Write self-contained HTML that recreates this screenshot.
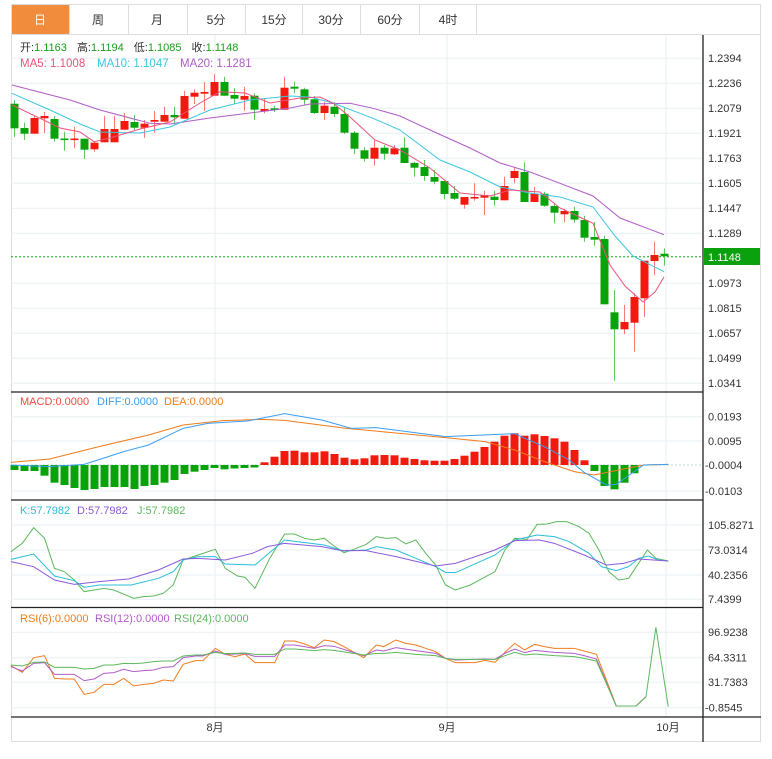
<!DOCTYPE html>
<html><head><meta charset="utf-8"><style>
body{margin:0;background:#fff;width:772px;height:754px;overflow:hidden;font-family:"Liberation Sans","Noto Sans CJK SC",sans-serif}
</style></head><body>
<svg width="772" height="754" viewBox="0 0 772 754" xmlns="http://www.w3.org/2000/svg" font-family="Liberation Sans, Noto Sans CJK SC, sans-serif">
<rect x="11.5" y="4.5" width="749" height="737" fill="none" stroke="#ddd"/>
<rect x="12" y="5" width="57" height="29" fill="#f08c3c"/>
<g stroke="#ddd"><line x1="69.5" y1="5" x2="69.5" y2="34"/><line x1="128.5" y1="5" x2="128.5" y2="34"/><line x1="187.5" y1="5" x2="187.5" y2="34"/><line x1="245.5" y1="5" x2="245.5" y2="34"/><line x1="302.5" y1="5" x2="302.5" y2="34"/><line x1="360.5" y1="5" x2="360.5" y2="34"/><line x1="419.5" y1="5" x2="419.5" y2="34"/><line x1="476.5" y1="5" x2="476.5" y2="34"/><line x1="11" y1="34.5" x2="761" y2="34.5"/></g>
<g font-size="12" text-anchor="middle" fill="#333"><text x="40" y="24" fill="#fff">日</text><text x="98" y="24">周</text><text x="157" y="24">月</text><text x="216" y="24">5分</text><text x="274" y="24">15分</text><text x="331" y="24">30分</text><text x="390" y="24">60分</text><text x="448" y="24">4时</text></g>
<g stroke="#e8eff3" stroke-width="1">
<line x1="11" y1="58.3" x2="703" y2="58.3"/><line x1="11" y1="83.3" x2="703" y2="83.3"/><line x1="11" y1="108.3" x2="703" y2="108.3"/><line x1="11" y1="133.3" x2="703" y2="133.3"/><line x1="11" y1="158.3" x2="703" y2="158.3"/><line x1="11" y1="183.3" x2="703" y2="183.3"/><line x1="11" y1="208.3" x2="703" y2="208.3"/><line x1="11" y1="233.3" x2="703" y2="233.3"/><line x1="11" y1="283.3" x2="703" y2="283.3"/><line x1="11" y1="308.3" x2="703" y2="308.3"/><line x1="11" y1="333.3" x2="703" y2="333.3"/><line x1="11" y1="358.3" x2="703" y2="358.3"/><line x1="11" y1="383.3" x2="703" y2="383.3"/>
<line x1="11" y1="416.7" x2="703" y2="416.7"/><line x1="11" y1="441" x2="703" y2="441"/><line x1="11" y1="491" x2="703" y2="491"/>
<line x1="11" y1="525" x2="703" y2="525"/><line x1="11" y1="550" x2="703" y2="550"/><line x1="11" y1="575" x2="703" y2="575"/><line x1="11" y1="599.3" x2="703" y2="599.3"/>
<line x1="11" y1="632.3" x2="703" y2="632.3"/><line x1="11" y1="657.7" x2="703" y2="657.7"/><line x1="11" y1="682.3" x2="703" y2="682.3"/><line x1="11" y1="707.7" x2="703" y2="707.7"/>
<line x1="215" y1="35" x2="215" y2="717"/><line x1="447" y1="35" x2="447" y2="717"/><line x1="666" y1="35" x2="666" y2="717"/>
</g>
<g stroke="#222" stroke-width="1.3"><line x1="11" y1="392" x2="703" y2="392"/><line x1="11" y1="500" x2="703" y2="500"/><line x1="11" y1="607.5" x2="703" y2="607.5"/><line x1="11" y1="717" x2="761" y2="717"/><line x1="703" y1="35" x2="703" y2="742"/></g>
<g font-size="11" fill="#333">
<text x="708" y="62">1.2394</text><text x="708" y="87">1.2236</text><text x="708" y="112">1.2079</text><text x="708" y="137">1.1921</text><text x="708" y="162">1.1763</text><text x="708" y="187">1.1605</text><text x="708" y="212">1.1447</text><text x="708" y="237">1.1289</text><text x="708" y="287">1.0973</text><text x="708" y="312">1.0815</text><text x="708" y="337">1.0657</text><text x="708" y="362">1.0499</text><text x="708" y="387">1.0341</text>
<text x="708" y="420.5">0.0193</text><text x="708" y="445">0.0095</text><text x="705" y="469">-0.0004</text><text x="705" y="495">-0.0103</text>
<text x="708" y="529">105.8271</text><text x="708" y="554">73.0314</text><text x="708" y="579">40.2356</text><text x="708" y="603">7.4399</text>
<text x="708" y="636">96.9238</text><text x="708" y="661.5">64.3311</text><text x="708" y="686">31.7383</text><text x="705" y="711.5">-0.8545</text>
<text x="215" y="731" text-anchor="middle">8月</text><text x="447" y="731" text-anchor="middle">9月</text><text x="668" y="731" text-anchor="middle">10月</text>
</g>
<line x1="11" y1="256.7" x2="703" y2="256.7" stroke="#1aa01a" stroke-dasharray="2,2"/>
<rect x="704" y="248" width="56" height="17" fill="#0aa00e"/>
<text x="708" y="261" font-size="11" fill="#fff">1.1148</text>
<text x="20" y="51" font-size="11" fill="#333">开:<tspan fill="#1aa01a">1.1163</tspan><tspan dx="10">高:</tspan><tspan fill="#1aa01a">1.1194</tspan><tspan dx="10">低:</tspan><tspan fill="#1aa01a">1.1085</tspan><tspan dx="10">收:</tspan><tspan fill="#1aa01a">1.1148</tspan></text>
<text x="20" y="67" font-size="11.5" fill="#e9537a">MA5: 1.1008<tspan x="97" fill="#3bc7e0">MA10: 1.1047</tspan><tspan x="180" fill="#b05cc8">MA20: 1.1281</tspan></text>
<text x="20" y="405" font-size="11" fill="#f04b3c">MACD:0.0000<tspan x="97" fill="#3c9ef0">DIFF:0.0000</tspan><tspan x="164" fill="#f07c1c">DEA:0.0000</tspan></text>
<text x="20" y="514" font-size="11" fill="#2bbcd8">K:57.7982<tspan x="77" fill="#8a5ad8">D:57.7982</tspan><tspan x="137" fill="#5cb85c">J:57.7982</tspan></text>
<text x="20" y="622" font-size="11" fill="#f07c1c">RSI(6):0.0000<tspan x="95" fill="#b05cc8">RSI(12):0.0000</tspan><tspan x="174" fill="#5cb85c">RSI(24):0.0000</tspan></text>

<g stroke-width="1">
<g fill="#08a20a" stroke="#5cc85c">
<line x1="14.5" y1="100" x2="14.5" y2="137"/><rect x="10.5" y="103.7" width="8" height="24.6" stroke="none"/>
<line x1="24.5" y1="122.7" x2="24.5" y2="140"/><rect x="20.5" y="128" width="8" height="5.7" stroke="none"/>
<line x1="54.5" y1="116" x2="54.5" y2="141.7"/><rect x="50.5" y="119" width="8" height="19.7" stroke="none"/>
<line x1="64.5" y1="131.7" x2="64.5" y2="150.7"/><rect x="60.5" y="138.5" width="8" height="1.6" stroke="none"/>
<line x1="84.5" y1="138.7" x2="84.5" y2="158.7"/><rect x="80.5" y="138.7" width="8" height="11" stroke="none"/>
<line x1="134.5" y1="115" x2="134.5" y2="130"/><rect x="130.5" y="122" width="8" height="5.7" stroke="none"/>
<line x1="174.5" y1="106.7" x2="174.5" y2="124.3"/><rect x="170.5" y="115" width="8" height="2.3" stroke="none"/>
<line x1="224.5" y1="76.7" x2="224.5" y2="95.7"/><rect x="220.5" y="82" width="8" height="13.7" stroke="none"/>
<line x1="234.5" y1="88.3" x2="234.5" y2="103.7"/><rect x="230.5" y="95" width="8" height="3.7" stroke="none"/>
<line x1="254.5" y1="93.3" x2="254.5" y2="120"/><rect x="250.5" y="95.7" width="8" height="14" stroke="none"/>
<line x1="274.5" y1="106" x2="274.5" y2="112"/><rect x="270.5" y="108.3" width="8" height="1.7" stroke="none"/>
<line x1="294.5" y1="81.7" x2="294.5" y2="93.3"/><rect x="290.5" y="86.7" width="8" height="2" stroke="none"/>
<line x1="304.5" y1="87.7" x2="304.5" y2="105"/><rect x="300.5" y="89.3" width="8" height="10.4" stroke="none"/>
<line x1="314.5" y1="96" x2="314.5" y2="114"/><rect x="310.5" y="99.3" width="8" height="13.7" stroke="none"/>
<line x1="334.5" y1="102" x2="334.5" y2="117"/><rect x="330.5" y="106.7" width="8" height="7.3" stroke="none"/>
<line x1="344.5" y1="108" x2="344.5" y2="134"/><rect x="340.5" y="114" width="8" height="18.7" stroke="none"/>
<line x1="354.5" y1="131" x2="354.5" y2="154"/><rect x="350.5" y="132.7" width="8" height="16" stroke="none"/>
<line x1="364.5" y1="147.3" x2="364.5" y2="161.7"/><rect x="360.5" y="150.3" width="8" height="8.4" stroke="none"/>
<line x1="384.5" y1="145" x2="384.5" y2="159.7"/><rect x="380.5" y="147.7" width="8" height="6" stroke="none"/>
<line x1="404.5" y1="137.3" x2="404.5" y2="163"/><rect x="400.5" y="147.7" width="8" height="15.3" stroke="none"/>
<line x1="414.5" y1="161.7" x2="414.5" y2="176.7"/><rect x="410.5" y="163" width="8" height="4.7" stroke="none"/>
<line x1="424.5" y1="160" x2="424.5" y2="180.7"/><rect x="420.5" y="167" width="8" height="9" stroke="none"/>
<line x1="434.5" y1="170" x2="434.5" y2="184.3"/><rect x="430.5" y="177" width="8" height="4.7" stroke="none"/>
<line x1="444.5" y1="181" x2="444.5" y2="199.3"/><rect x="440.5" y="181" width="8" height="13" stroke="none"/>
<line x1="454.5" y1="186" x2="454.5" y2="200"/><rect x="450.5" y="193" width="8" height="5.7" stroke="none"/>
<line x1="494.5" y1="190.7" x2="494.5" y2="205.7"/><rect x="490.5" y="196.7" width="8" height="3.3" stroke="none"/>
<line x1="524.5" y1="162.3" x2="524.5" y2="202"/><rect x="520.5" y="172" width="8" height="30" stroke="none"/>
<line x1="544.5" y1="191.7" x2="544.5" y2="206.7"/><rect x="540.5" y="193.7" width="8" height="12" stroke="none"/>
<line x1="554.5" y1="203.3" x2="554.5" y2="223.3"/><rect x="550.5" y="206" width="8" height="6.7" stroke="none"/>
<line x1="574.5" y1="206.7" x2="574.5" y2="222.7"/><rect x="570.5" y="211" width="8" height="8.6" stroke="none"/>
<line x1="584.5" y1="215.7" x2="584.5" y2="241.7"/><rect x="580.5" y="220" width="8" height="17.7" stroke="none"/>
<line x1="594.5" y1="221.7" x2="594.5" y2="245.7"/><rect x="590.5" y="237" width="8" height="2.7" stroke="none"/>
<line x1="604.5" y1="235.7" x2="604.5" y2="304.3"/><rect x="600.5" y="239" width="8" height="65.3" stroke="none"/>
<line x1="614.5" y1="290" x2="614.5" y2="380.7"/><rect x="610.5" y="312.3" width="8" height="17" stroke="none"/>
<line x1="664.5" y1="248.3" x2="664.5" y2="265.7"/><rect x="660.5" y="253.7" width="8" height="2.6" stroke="none"/>
</g>
<g fill="#f21a0e" stroke="#f47a72">
<line x1="34.5" y1="116" x2="34.5" y2="133.7"/><rect x="30.5" y="118" width="8" height="15.7" stroke="none"/>
<line x1="44.5" y1="112" x2="44.5" y2="133"/><rect x="40.5" y="116" width="8" height="2.3" stroke="none"/>
<line x1="74.5" y1="126.7" x2="74.5" y2="148.3"/><rect x="70.5" y="138.5" width="8" height="1.6" stroke="none"/>
<line x1="94.5" y1="141.7" x2="94.5" y2="151.7"/><rect x="90.5" y="142.7" width="8" height="6.6" stroke="none"/>
<line x1="104.5" y1="115.7" x2="104.5" y2="142.3"/><rect x="100.5" y="129" width="8" height="13.3" stroke="none"/>
<line x1="114.5" y1="115.7" x2="114.5" y2="142.3"/><rect x="110.5" y="129" width="8" height="13.3" stroke="none"/>
<line x1="124.5" y1="113" x2="124.5" y2="129.7"/><rect x="120.5" y="121" width="8" height="8.7" stroke="none"/>
<line x1="144.5" y1="120" x2="144.5" y2="137.7"/><rect x="140.5" y="123.7" width="8" height="4" stroke="none"/>
<line x1="154.5" y1="111" x2="154.5" y2="132.7"/><rect x="150.5" y="120" width="8" height="1.7" stroke="none"/>
<line x1="164.5" y1="106.7" x2="164.5" y2="121.7"/><rect x="160.5" y="115" width="8" height="6.7" stroke="none"/>
<line x1="184.5" y1="90.7" x2="184.5" y2="118.7"/><rect x="180.5" y="96" width="8" height="22.7" stroke="none"/>
<line x1="194.5" y1="89.3" x2="194.5" y2="104"/><rect x="190.5" y="92.7" width="8" height="4" stroke="none"/>
<line x1="204.5" y1="82" x2="204.5" y2="110.7"/><rect x="200.5" y="92" width="8" height="1.7" stroke="none"/>
<line x1="214.5" y1="74.3" x2="214.5" y2="95.7"/><rect x="210.5" y="82" width="8" height="13.7" stroke="none"/>
<line x1="244.5" y1="86.7" x2="244.5" y2="110.7"/><rect x="240.5" y="96" width="8" height="3.7" stroke="none"/>
<line x1="264.5" y1="98.3" x2="264.5" y2="113.3"/><rect x="260.5" y="109" width="8" height="2.3" stroke="none"/>
<line x1="284.5" y1="76.7" x2="284.5" y2="109.7"/><rect x="280.5" y="87.7" width="8" height="22" stroke="none"/>
<line x1="324.5" y1="101.7" x2="324.5" y2="120"/><rect x="320.5" y="105.7" width="8" height="7.3" stroke="none"/>
<line x1="374.5" y1="140" x2="374.5" y2="165.7"/><rect x="370.5" y="147.7" width="8" height="11" stroke="none"/>
<line x1="394.5" y1="145" x2="394.5" y2="155"/><rect x="390.5" y="148.3" width="8" height="6" stroke="none"/>
<line x1="464.5" y1="197" x2="464.5" y2="208.7"/><rect x="460.5" y="197" width="8" height="7.7" stroke="none"/>
<line x1="474.5" y1="183.3" x2="474.5" y2="200.7"/><rect x="470.5" y="197" width="8" height="1.6" stroke="none"/>
<line x1="484.5" y1="190.7" x2="484.5" y2="215"/><rect x="480.5" y="195" width="8" height="2.7" stroke="none"/>
<line x1="504.5" y1="176.7" x2="504.5" y2="200.3"/><rect x="500.5" y="186" width="8" height="14.3" stroke="none"/>
<line x1="514.5" y1="166.7" x2="514.5" y2="183.3"/><rect x="510.5" y="171" width="8" height="7" stroke="none"/>
<line x1="534.5" y1="186.7" x2="534.5" y2="202"/><rect x="530.5" y="193.7" width="8" height="8.3" stroke="none"/>
<line x1="564.5" y1="208.7" x2="564.5" y2="222.3"/><rect x="560.5" y="211" width="8" height="3.3" stroke="none"/>
<line x1="624.5" y1="305" x2="624.5" y2="334.3"/><rect x="620.5" y="322" width="8" height="7.3" stroke="none"/>
<line x1="634.5" y1="293.3" x2="634.5" y2="351.7"/><rect x="630.5" y="297" width="8" height="25.7" stroke="none"/>
<line x1="644.5" y1="260.7" x2="644.5" y2="316.7"/><rect x="640.5" y="260.7" width="8" height="37.6" stroke="none"/>
<line x1="654.5" y1="241.7" x2="654.5" y2="275"/><rect x="650.5" y="255" width="8" height="6" stroke="none"/>
</g>
</g>
<g fill="none" stroke-width="1">
<polyline stroke="#b05cc8" points="12,85 70,100 100,110 150,123.3 170,124 210,118 250,113 290,108 310,104 350,103.3 373,108.3 400,116 430,130 470,148 500,163 530,172 560,183.3 593,196 620,218 664,234.7"/>
<polyline stroke="#3bc7e0" points="12,93.3 50,110 80,124 100,132 140,133 170,127 210,110 250,100 290,96 310,97 333,103 373,118.3 400,130 440,160 470,172 500,187 530,193 560,197 593,207 615,236 633,256 664,271.7"/>
<polyline stroke="#e9537a" points="12,105 40,118.3 60,128 80,132 94,141.7 110,138 140,129 170,122 200,103 220,91.7 245,93 270,103 300,98 320,97 333,103 350,117 375,140 400,150 430,168 460,193 490,196 510,190 540,192 560,208 593,223.3 610,265 625,286 643,302 655,292 664,277"/>
</g>
<line x1="11" y1="465" x2="703" y2="465" stroke="#9cc" stroke-dasharray="2,2" stroke-width="0.8"/>
<g fill="#08a20a">
<rect x="10.5" y="465" width="8" height="5"/><rect x="20.5" y="465" width="8" height="6"/><rect x="30.5" y="465" width="8" height="6"/><rect x="40.5" y="465" width="8" height="10.7"/><rect x="50.5" y="465" width="8" height="17.7"/><rect x="60.5" y="465" width="8" height="20"/><rect x="70.5" y="465" width="8" height="23"/><rect x="80.5" y="465" width="8" height="25"/><rect x="90.5" y="465" width="8" height="24"/><rect x="100.5" y="465" width="8" height="22"/><rect x="110.5" y="465" width="8" height="22"/><rect x="120.5" y="465" width="8" height="22"/><rect x="130.5" y="465" width="8" height="24"/><rect x="140.5" y="465" width="8" height="21"/><rect x="150.5" y="465" width="8" height="20"/><rect x="160.5" y="465" width="8" height="17.7"/><rect x="170.5" y="465" width="8" height="15"/><rect x="180.5" y="465" width="8" height="9"/><rect x="190.5" y="465" width="8" height="6.7"/><rect x="200.5" y="465" width="8" height="5"/><rect x="210.5" y="465" width="8" height="3"/><rect x="220.5" y="465" width="8" height="4.3"/><rect x="230.5" y="465" width="8" height="3.5"/><rect x="240.5" y="465" width="8" height="3"/><rect x="250.5" y="465" width="8" height="2.5"/>
<rect x="590.5" y="465" width="8" height="6"/><rect x="600.5" y="465" width="8" height="21"/><rect x="610.5" y="465" width="8" height="24.3"/><rect x="620.5" y="465" width="8" height="17.7"/><rect x="630.5" y="465" width="8" height="8.3"/>
</g>
<g fill="#f21a0e">
<rect x="260.5" y="462.3" width="8" height="2.7"/><rect x="270.5" y="456.7" width="8" height="8.3"/><rect x="280.5" y="451" width="8" height="14"/><rect x="290.5" y="450.7" width="8" height="14.3"/><rect x="300.5" y="452.3" width="8" height="12.7"/><rect x="310.5" y="452.3" width="8" height="12.7"/><rect x="320.5" y="451.3" width="8" height="13.7"/><rect x="330.5" y="454" width="8" height="11"/><rect x="340.5" y="457.7" width="8" height="7.3"/><rect x="350.5" y="459.3" width="8" height="5.7"/><rect x="360.5" y="458.3" width="8" height="6.7"/><rect x="370.5" y="455.3" width="8" height="9.7"/><rect x="380.5" y="455" width="8" height="10"/><rect x="390.5" y="455.3" width="8" height="9.7"/><rect x="400.5" y="457.7" width="8" height="7.3"/><rect x="410.5" y="459" width="8" height="6"/><rect x="420.5" y="460.3" width="8" height="4.7"/><rect x="430.5" y="460.7" width="8" height="4.3"/><rect x="440.5" y="460.7" width="8" height="4.3"/><rect x="450.5" y="459" width="8" height="6"/><rect x="460.5" y="455.7" width="8" height="9.3"/><rect x="470.5" y="451.7" width="8" height="13.3"/><rect x="480.5" y="447" width="8" height="18"/><rect x="490.5" y="441.7" width="8" height="23.3"/><rect x="500.5" y="435.7" width="8" height="29.3"/><rect x="510.5" y="433.3" width="8" height="31.7"/><rect x="520.5" y="435.7" width="8" height="29.3"/><rect x="530.5" y="434.3" width="8" height="30.7"/><rect x="540.5" y="436" width="8" height="29"/><rect x="550.5" y="438.3" width="8" height="26.7"/><rect x="560.5" y="441.7" width="8" height="23.3"/><rect x="570.5" y="450" width="8" height="15"/><rect x="580.5" y="460.3" width="8" height="4.7"/>
</g>
<g transform="translate(0,385) scale(0.495,0.3333)" fill="none" stroke-width="1">
<polyline vector-effect="non-scaling-stroke" stroke="#f07c1c" points="22,232 100,222 200,185 300,150 370,120 450,107 530,103 575,106 700,130 900,158 980,170 1040,195 1100,230 1160,260 1200,270 1250,255 1300,240 1350,238"/>
<polyline vector-effect="non-scaling-stroke" stroke="#3c9ef0" points="22,240 100,245 170,238 250,200 300,180 370,130 420,115 500,108 575,86 650,105 710,130 760,128 900,155 1040,146 1060,160 1100,185 1150,225 1180,262 1225,300 1245,298 1300,240 1350,238"/>
</g>
<g transform="translate(0,500) scale(0.495,0.3333)" fill="none" stroke-width="1">
<polyline vector-effect="non-scaling-stroke" stroke="#5cb85c" points="22,155 45,130 68,83 90,115 110,205 130,215 150,240 170,275 210,265 230,270 270,295 290,290 310,288 330,280 350,255 370,180 400,165 435,148 455,205 480,228 495,232 515,265 545,175 575,102 595,102 615,115 635,120 655,115 675,138 695,158 720,145 740,133 760,110 780,115 800,113 820,132 840,120 860,160 880,195 900,255 920,270 950,255 975,235 1000,215 1020,150 1040,115 1065,118 1085,73 1105,72 1125,65 1145,65 1170,80 1190,100 1210,150 1230,215 1250,240 1270,235 1290,190 1308,150 1325,175 1350,183"/>
<polyline vector-effect="non-scaling-stroke" stroke="#2bbcd8" points="22,178 68,162 110,228 150,242 170,262 200,255 265,255 320,235 350,215 370,180 400,170 435,170 455,192 515,195 575,120 600,125 655,135 695,153 740,150 760,140 800,150 840,175 880,200 900,217 920,218 1000,165 1040,120 1085,105 1120,110 1150,125 1190,160 1215,200 1245,212 1270,200 1290,175 1310,168 1330,180 1350,183"/>
<polyline vector-effect="non-scaling-stroke" stroke="#8a5ad8" points="22,185 68,200 110,240 150,253 200,245 260,237 320,210 370,177 400,175 455,180 510,160 540,140 575,130 650,140 690,152 740,152 800,170 880,198 920,190 1000,150 1040,122 1090,120 1120,130 1180,165 1225,195 1260,190 1290,177 1350,183"/>
</g>
<g transform="translate(0,595) scale(0.495,0.3333)" fill="none" stroke-width="1">
<polyline vector-effect="non-scaling-stroke" stroke="#f07c1c" points="22,212 45,232 68,188 90,182 110,250 130,252 150,252 170,298 190,292 210,268 230,268 250,250 270,273 290,268 310,265 330,255 350,258 370,208 395,197 410,197 435,160 455,178 475,185 495,177 515,203 555,203 575,138 595,138 615,147 635,158 655,135 675,140 695,155 715,172 735,188 760,150 775,155 800,135 820,145 840,150 860,160 880,170 900,190 920,203 960,203 980,196 1000,202 1020,172 1040,145 1060,165 1080,148 1100,155 1120,160 1160,160 1180,168 1205,178 1245,333 1285,333 1305,305"/>
<polyline vector-effect="non-scaling-stroke" stroke="#b05cc8" points="22,215 45,228 68,205 90,203 110,238 150,238 170,257 190,252 210,235 230,233 250,223 270,230 290,227 310,225 330,217 350,215 370,188 395,183 410,183 435,168 455,178 475,177 495,176 515,184 555,184 575,150 595,150 635,160 655,152 675,154 735,182 760,165 775,168 800,158 840,167 880,175 900,190 920,195 980,192 1000,193 1020,175 1040,162 1060,173 1080,166 1120,172 1160,175 1180,182 1205,192 1245,333 1285,333 1305,305"/>
<polyline vector-effect="non-scaling-stroke" stroke="#5cb85c" points="22,210 45,213 68,202 90,201 110,217 150,217 170,222 190,220 210,210 230,210 250,205 270,206 290,204 310,200 330,198 350,198 370,183 395,180 410,180 435,172 455,176 475,175 495,174 515,178 555,178 575,162 595,162 635,167 655,164 675,166 735,180 760,175 775,175 800,172 840,178 880,182 900,190 920,193 980,193 1000,193 1020,182 1040,172 1060,180 1080,177 1120,182 1160,185 1180,190 1205,198 1245,333 1285,333 1305,305 1325,97 1350,335"/>
</g>
</svg>
</body></html>
